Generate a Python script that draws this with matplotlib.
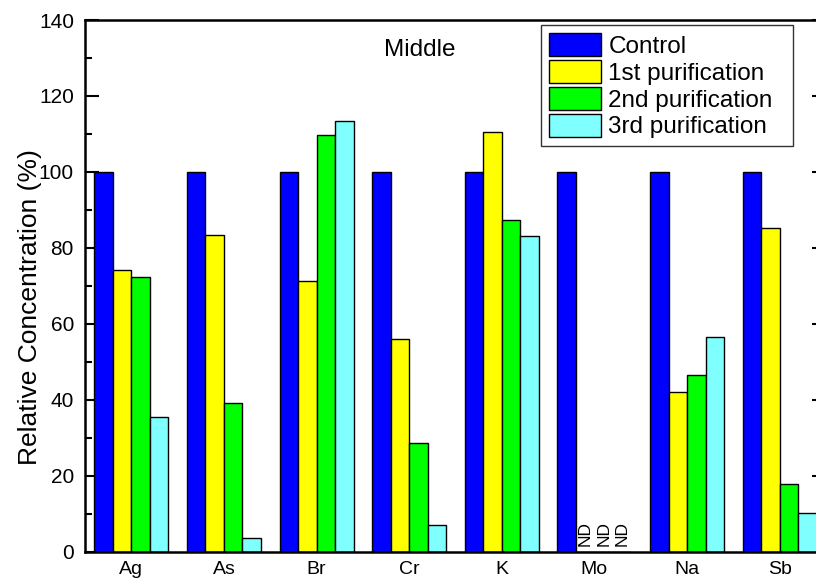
import numpy as np
import matplotlib
matplotlib.use("Agg")
import matplotlib.pyplot as plt
from matplotlib.ticker import MultipleLocator

plt.rcParams['font.family'] = ['Liberation Sans', 'DejaVu Sans']

elements = ["Ag", "As", "Br", "Cr", "K", "Mo", "Na", "Sb"]
series_names = ["Control", "1st purification", "2nd purification", "3rd purification"]
control = [100, 100, 100, 100, 100, 100, 100, 100]
first = [74.1, 83.3, 71.3, 55.9, 110.4, 0, 42.1, 85.1]
second = [72.4, 39.0, 109.8, 28.5, 87.3, 0, 46.4, 17.8]
third = [35.4, 3.5, 113.4, 6.9, 83.0, 0, 56.6, 10.1]
not_detected = [(5, 1), (5, 2), (5, 3)]  # (element index, series index)
colors = ["#0000ff", "#ffff00", "#00ff00", "#80ffff"]

fig = plt.figure(figsize=(8.16, 5.81), dpi=100)
ax = fig.add_axes([85 / 816, 29.5 / 581, 741 / 816, 531.5 / 581])

x = np.arange(len(elements))
w = 0.2
all_series = [control, first, second, third]
for i, (vals, name, c) in enumerate(zip(all_series, series_names, colors)):
    ax.bar(x + (i - 1.5) * w, vals, width=w, color=c, edgecolor="black",
           linewidth=1.0, label=name, zorder=2)

for ei, si in not_detected:
    ax.text(x[ei] + (si - 1.5) * w, 1.5, "ND", rotation=90, ha="center",
            va="bottom", fontsize=12.5)

ax.set_xlim(-0.5, len(elements) - 0.5)
ax.set_ylim(0, 140)
ax.set_xticks(x)
ax.set_xticklabels(elements, fontsize=14)
ax.tick_params(axis="x", length=0, pad=6.5)
ax.yaxis.set_major_locator(MultipleLocator(20))
ax.yaxis.set_minor_locator(MultipleLocator(10))
ax.tick_params(axis="y", which="major", direction="in", length=10, width=1.5,
               labelsize=15, right=True, pad=8)
ax.tick_params(axis="y", which="minor", direction="in", length=5, width=1.5,
               right=True)
for s in ax.spines.values():
    s.set_linewidth(1.8)
ax.set_ylabel("Relative Concentration (%)", fontsize=19)
ax.yaxis.set_label_coords((42 - 85) / 741, (551.5 - 307) / 531.5)

ax.text(0.452, 0.944, "Middle", transform=ax.transAxes, ha="center",
        va="center", fontsize=17.5)

leg = ax.legend(loc="upper left",
                bbox_to_anchor=((541 - 85) / 741, (551.5 - 25) / 531.5,
                                (793 - 541) / 741, 0.0),
                mode="expand",
                fontsize=17.5, frameon=True, fancybox=False, edgecolor="black",
                handlelength=2.14, handleheight=1.07, labelspacing=0.09,
                handletextpad=0.3, borderpad=0.33, borderaxespad=0)
leg.get_frame().set_linewidth(1.0)

fig.savefig("out.png", dpi=100)
